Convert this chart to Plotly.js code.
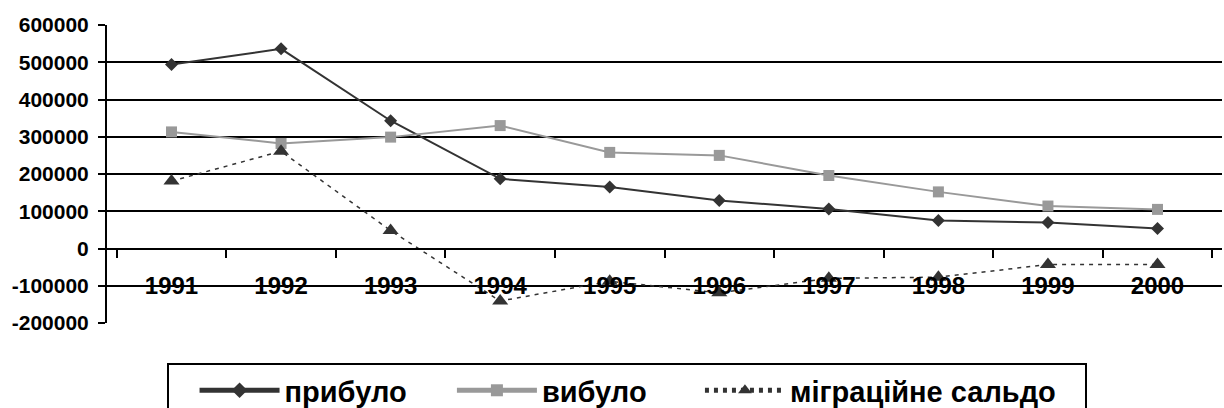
<!DOCTYPE html>
<html>
<head>
<meta charset="utf-8">
<script src="https://cdn.plot.ly/plotly-3.0.1.min.js"></script>
<style>html,body{margin:0;padding:0;background:#fff;}#chart{width:1224px;height:408px;}</style>
</head>
<body>
<div id="chart"></div>
<script>
const years = ['1991','1992','1993','1994','1995','1996','1997','1998','1999','2000'];
const arrived = [494000, 536000, 343000, 187000, 165000, 129000, 106000, 75000, 70000, 54000];
const departed = [313000, 282000, 299000, 330000, 258000, 250000, 196000, 152000, 114000, 105000];
const migration = [181000, 261000, 48000, -141000, -88000, -119000, -80000, -77000, -43000, -43000];
const seriesNames = ['прибуло', 'вибуло', 'міграційне сальдо'];
const yTickVals = [-200000, -100000, 0, 100000, 200000, 300000, 400000, 500000, 600000];
const yTickText = ['-200000', '-100000', '0', '100000', '200000', '300000', '400000', '500000', '600000'];

const fontFam = '"Liberation Sans", Arial, sans-serif';
const NB = '\u00a0';
// trailing non-breaking spaces widen the gaps between legend entries
const legendPad = [NB.repeat(5), NB.repeat(6), NB.repeat(3)];

const traces = [
  {x: years, y: arrived, name: seriesNames[0] + legendPad[0], type: 'scatter', mode: 'lines+markers',
   line: {color: '#333333', width: 2}, marker: {symbol: 'diamond', size: 10, color: '#333333'}},
  {x: years, y: departed, name: seriesNames[1] + legendPad[1], type: 'scatter', mode: 'lines+markers',
   line: {color: '#999999', width: 2}, marker: {symbol: 'square', size: 11, color: '#999999'}},
  {x: years, y: migration, name: seriesNames[2] + legendPad[2], type: 'scatter', mode: 'lines+markers',
   line: {color: '#333333', width: 1.5, dash: '4px,5px'}, marker: {symbol: 'triangle-up', size: 14, color: '#333333'}}
];

const layout = {
  width: 1224, height: 408,
  margin: {l: 107, r: 2, t: 25, b: 85, autoexpand: false},
  paper_bgcolor: '#ffffff', plot_bgcolor: '#ffffff',
  font: {family: fontFam, color: '#000000'},
  showlegend: true,
  legend: {
    orientation: 'h', x: 0.0538, xanchor: 'left', y: -0.134, yanchor: 'top',
    bordercolor: '#000000', borderwidth: 2,
    font: {family: fontFam, size: 29, weight: 'bold', color: '#000000'},
    title: {text: NB.repeat(2), side: 'left', font: {family: fontFam, size: 28}},
    itemwidth: 80, itemsizing: 'constant'
  },
  xaxis: {
    type: 'category',
    anchor: 'free', position: 0.25,
    showline: true, linecolor: '#000000', linewidth: 2,
    showgrid: false, zeroline: false,
    tickson: 'boundaries', ticks: 'outside', ticklen: 8, tickwidth: 2, tickcolor: '#000000',
    ticklabelstandoff: 16,
    tickfont: {family: fontFam, size: 24, weight: 'bold', color: '#000000'},
    fixedrange: true
  },
  yaxis: {
    range: [-200000, 600000],
    tickvals: yTickVals, ticktext: yTickText,
    showline: true, linecolor: '#000000', linewidth: 2,
    showgrid: true, gridcolor: '#000000', gridwidth: 2,
    zeroline: true, zerolinecolor: '#000000', zerolinewidth: 2,
    ticks: 'outside', ticklen: 7, tickwidth: 2, tickcolor: '#000000',
    ticklabelstandoff: 5,
    tickfont: {family: fontFam, size: 21, weight: 'bold', color: '#000000'},
    fixedrange: true
  }
};

Plotly.newPlot('chart', traces, layout, {displayModeBar: false, staticPlot: true});
</script>
</body>
</html>
